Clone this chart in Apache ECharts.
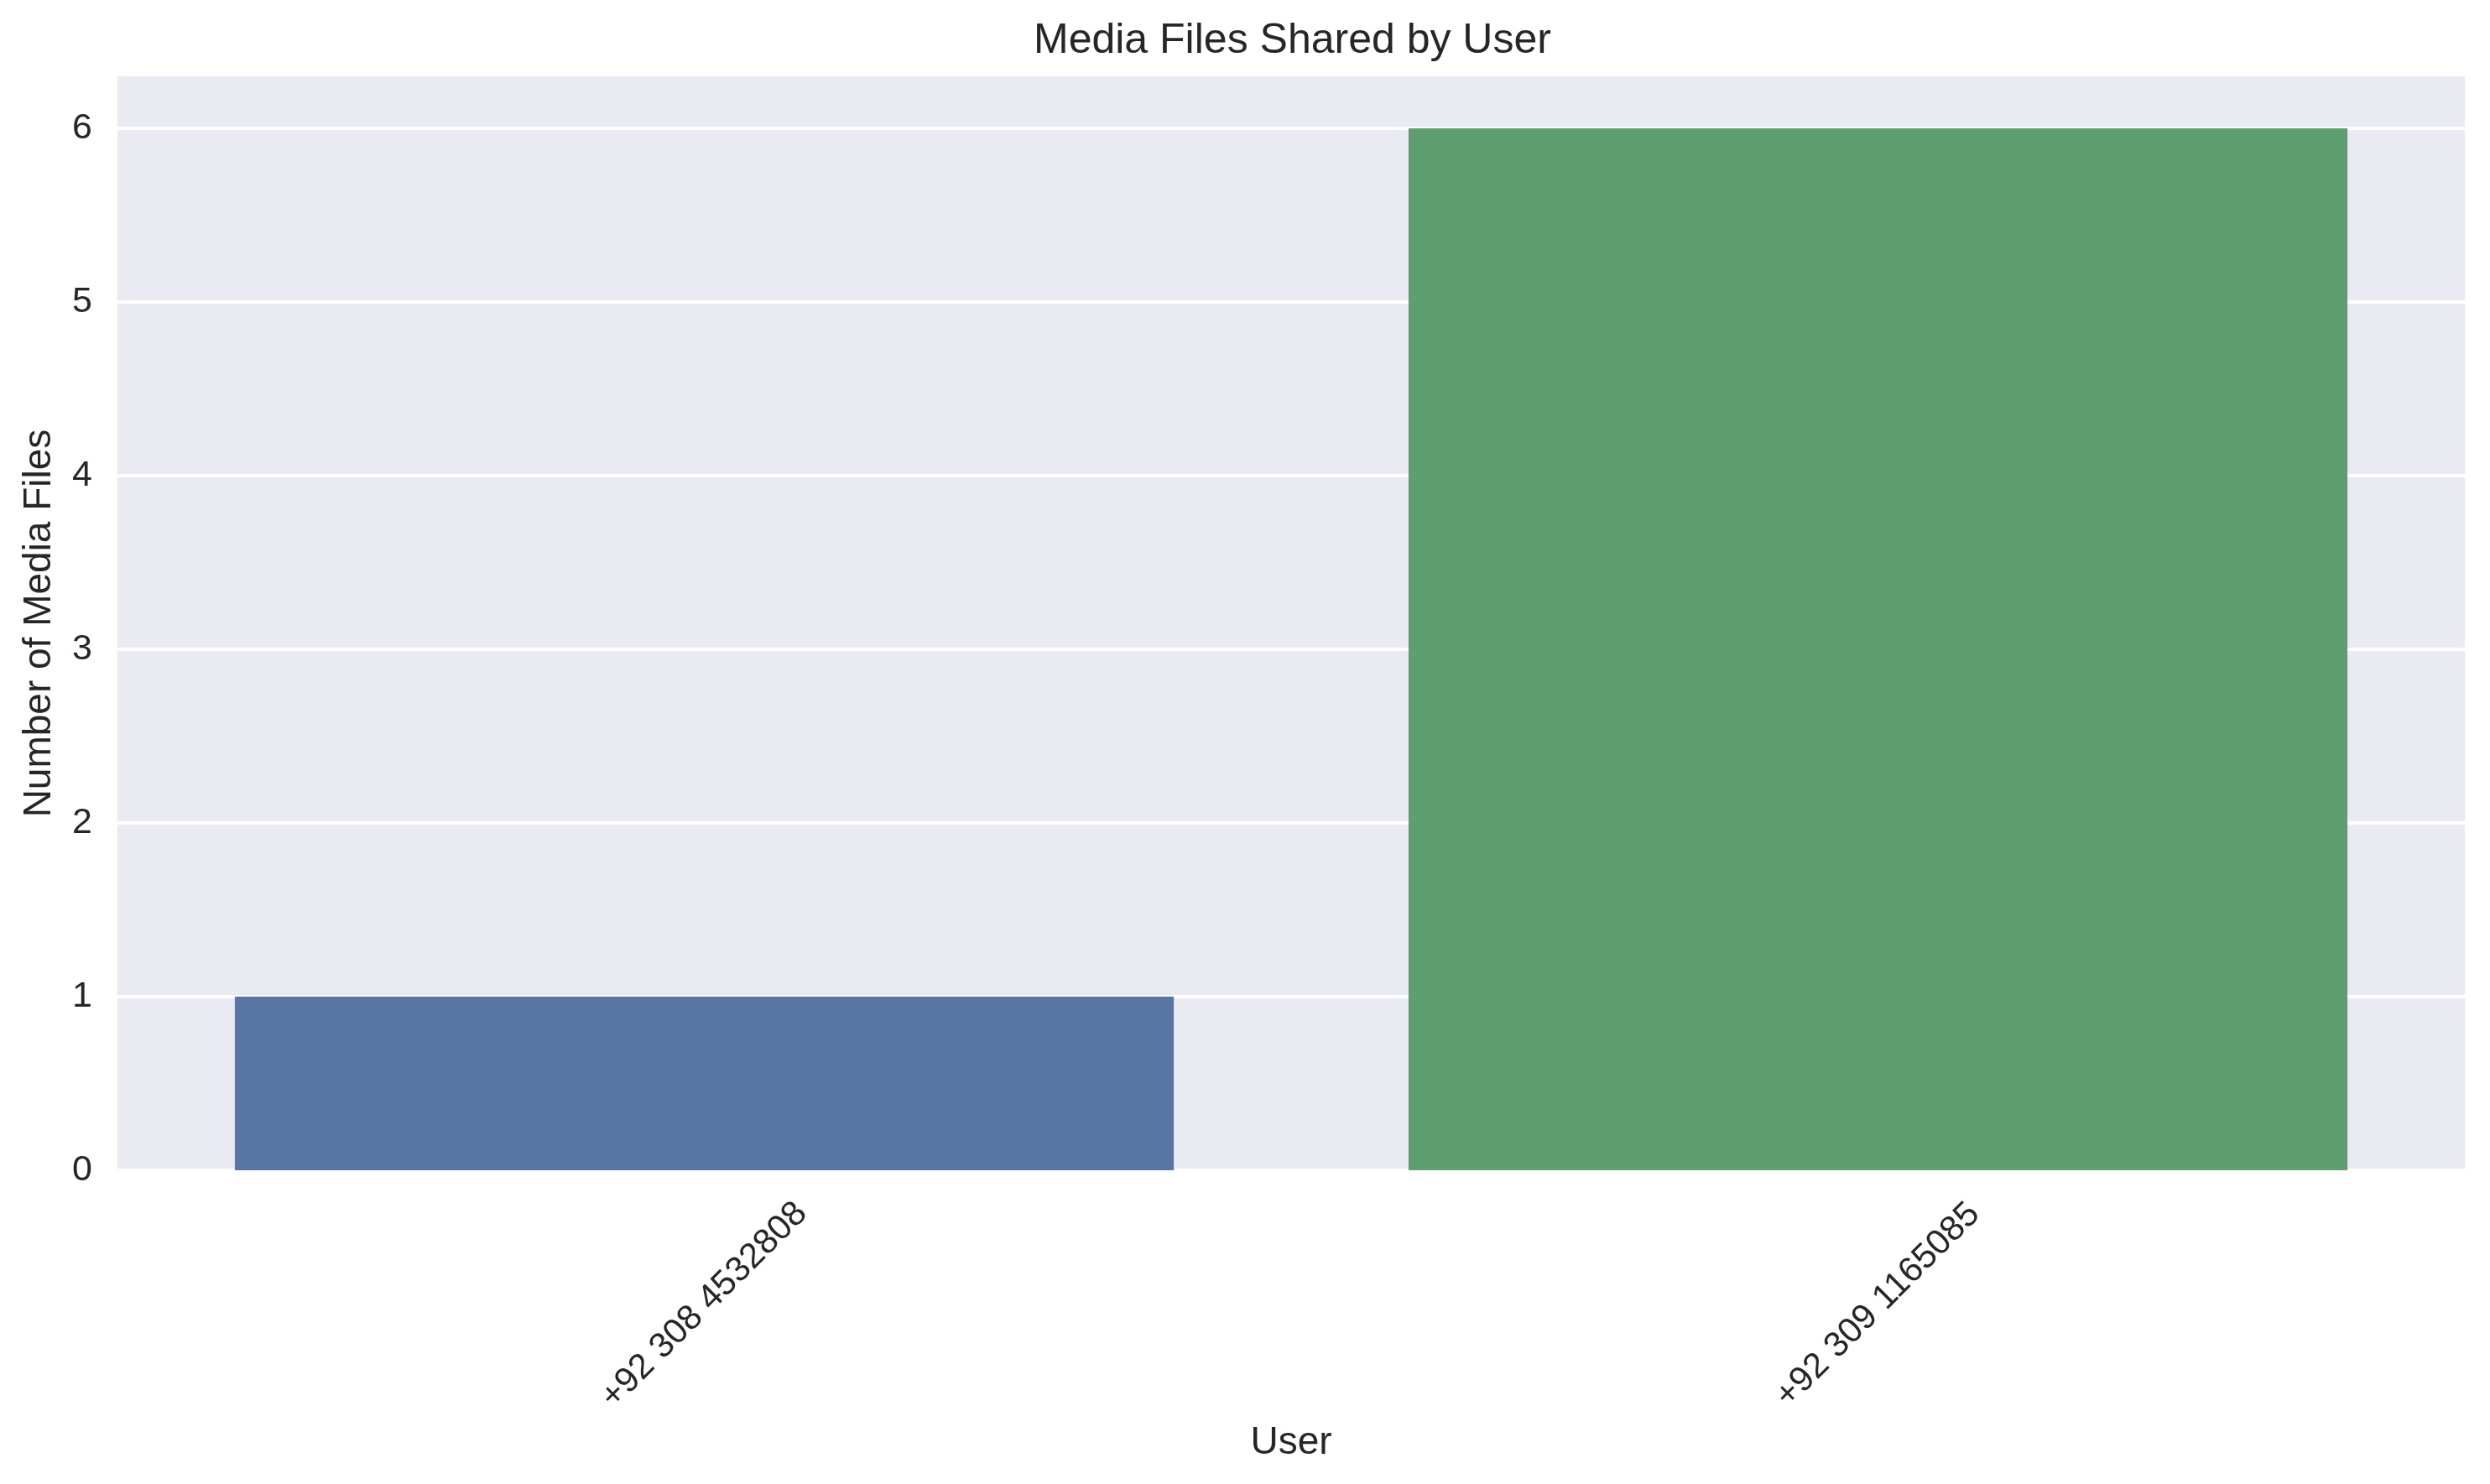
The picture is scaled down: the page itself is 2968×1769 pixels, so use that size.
<!DOCTYPE html>
<html>
<head>
<meta charset="utf-8">
<script src="https://cdn.jsdelivr.net/npm/echarts@6/dist/echarts.min.js"></script>
<style>
html,body{margin:0;padding:0;background:#fff;}
#chart{width:2968px;height:1769px;}
</style>
</head>
<body>
<div id="chart"></div>
<script>
const users = ['+92 308 4532808', '+92 309 1165085'];
const mediaCounts = [1, 6];
const barColors = ['#5975A4', '#5F9E6E'];
const yTicks = [0, 1, 2, 3, 4, 5, 6];

const FONT = "'Liberation Sans', Arial, sans-serif";
const TEXT = '#262626';

const chart = echarts.init(document.getElementById('chart'), null, {renderer: 'canvas'});
chart.setOption({
  animation: false,
  backgroundColor: '#ffffff',
  title: {
    text: 'Media Files Shared by User',
    left: 1232,
    top: 24,
    padding: 0,
    textStyle: {fontFamily: FONT, fontSize: 50, fontWeight: 'normal', color: TEXT}
  },
  grid: {
    left: 140, right: 30, top: 91, bottom: 374,
    show: true, backgroundColor: '#EAEAF2', borderWidth: 0,
    containLabel: false
  },
  xAxis: {
    type: 'category',
    data: users,
    boundaryGap: true,
    axisLine: {show: false},
    axisTick: {show: false},
    splitLine: {show: false},
    axisLabel: {
      rotate: 45,
      align: 'center',
      verticalAlign: 'middle',
      margin: 161,
      fontFamily: FONT, fontSize: 42, color: TEXT
    },
    name: 'User',
    nameLocation: 'middle',
    nameGap: 325,
    nameTextStyle: {fontFamily: FONT, fontSize: 46, color: TEXT, verticalAlign: 'middle'}
  },
  yAxis: {
    type: 'value',
    min: 0,
    max: 6.3,
    interval: 1,
    axisLine: {show: false},
    axisTick: {show: false},
    splitLine: {show: true, showMaxLine: false, lineStyle: {color: '#ffffff', width: 4}},
    axisLabel: {
      showMaxLabel: false,
      margin: 30,
      fontFamily: FONT, fontSize: 43, color: TEXT,
      formatter: function (v) { return yTicks.indexOf(v) >= 0 ? String(v) : ''; }
    },
    name: 'Number of Media Files',
    nameLocation: 'middle',
    nameGap: 93,
    nameTextStyle: {fontFamily: FONT, fontSize: 46, color: TEXT, verticalAlign: 'middle'}
  },
  series: [{
    type: 'bar',
    barWidth: '80%',
    data: mediaCounts.map(function (v, i) {
      return {value: v, itemStyle: {color: barColors[i % barColors.length]}};
    })
  }]
});
</script>
</body>
</html>
